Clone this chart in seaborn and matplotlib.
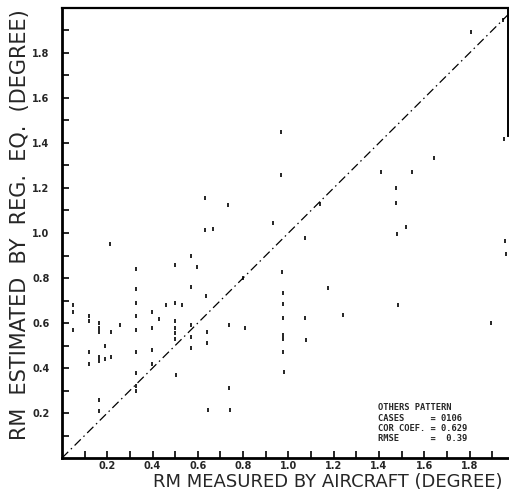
import matplotlib
matplotlib.use("Agg")
import matplotlib.pyplot as plt
import numpy as np
import pandas as pd
import seaborn as sns

# Measured (aircraft) vs. regression-estimated RM, degrees
rm_measured = [
    0.047, 0.047, 0.047,
    0.118, 0.118, 0.118, 0.118,
    0.162, 0.162, 0.162, 0.162, 0.162, 0.162, 0.162,
    0.19, 0.19, 0.212, 0.218, 0.218, 0.258,
    0.327, 0.327, 0.327, 0.327, 0.327, 0.327, 0.327, 0.327, 0.327,
    0.398, 0.398, 0.398, 0.398, 0.43, 0.459,
    0.50, 0.50, 0.50, 0.50, 0.50, 0.50, 0.503, 0.528,
    0.569, 0.569, 0.569, 0.569, 0.569, 0.597,
    0.633, 0.633, 0.665, 0.637, 0.64, 0.64, 0.645,
    0.733, 0.739, 0.739, 0.742, 0.80, 0.81,
    0.932, 0.968, 0.968, 0.973, 0.976, 0.976, 0.976, 0.978, 0.978, 0.978, 0.98,
    1.072, 1.075, 1.078, 1.139, 1.174, 1.243,
    1.407, 1.544, 1.476, 1.476, 1.518, 1.478, 1.484,
    1.643, 1.805, 1.948, 1.953, 1.957, 1.96, 1.894,
]
rm_estimated = [
    0.68, 0.65, 0.57,
    0.63, 0.61, 0.47, 0.42,
    0.60, 0.58, 0.56, 0.45, 0.43, 0.26, 0.21,
    0.50, 0.44, 0.95, 0.56, 0.45, 0.59,
    0.84, 0.75, 0.69, 0.63, 0.57, 0.47, 0.38, 0.32, 0.30,
    0.65, 0.58, 0.48, 0.42, 0.62, 0.68,
    0.86, 0.69, 0.61, 0.58, 0.555, 0.53, 0.37, 0.68,
    0.90, 0.76, 0.59, 0.54, 0.49, 0.85,
    1.154, 1.013, 1.02, 0.72, 0.56, 0.51, 0.213,
    1.124, 0.59, 0.31, 0.213, 0.80, 0.58,
    1.046, 1.447, 1.258, 0.825, 0.735, 0.684, 0.624, 0.545, 0.53, 0.472, 0.384,
    0.979, 0.624, 0.524, 1.129, 0.757, 0.636,
    1.27, 1.27, 1.199, 1.132, 1.028, 0.994, 0.68,
    1.332, 1.895, 1.947, 1.416, 0.966, 0.907, 0.601,
]

x_tick_values = [0.2, 0.4, 0.6, 0.8, 1.0, 1.2, 1.4, 1.6, 1.8]
y_tick_values = [0.2, 0.4, 0.6, 0.8, 1.0, 1.2, 1.4, 1.6, 1.8]
tick_labels = ["0.2", "0.4", "0.6", "0.8", "1.0", "1.2", "1.4", "1.6", "1.8"]

stats_lines = [
    "OTHERS PATTERN",
    "CASES     = 0106",
    "COR COEF. = 0.629",
    "RMSE      =  0.39",
]

sns.set_style("ticks")
plt.rcParams["font.family"] = ["DejaVu Sans"]

df = pd.DataFrame({"measured": rm_measured, "estimated": rm_estimated})

fig = plt.figure(figsize=(5.10, 4.92), dpi=100)
ax = fig.add_axes([62 / 510, (492 - 458) / 492, 446 / 510, 450 / 492])

sns.scatterplot(data=df, x="measured", y="estimated", marker="|", s=11,
                color="black", linewidth=1.2, ax=ax, legend=False)

# 1:1 reference line
ax.plot([0, 2.0], [0, 2.0], color="black", lw=0.9,
        linestyle=(0, (7, 3, 1.2, 3)))

ax.set_xlim(0, 1.97)
ax.set_ylim(0, 2.0)

ax.set_xticks(np.arange(0.1, 1.95, 0.1), minor=True)
ax.set_yticks(np.arange(0.1, 1.95, 0.1), minor=True)
ax.set_xticks(x_tick_values)
ax.set_yticks(y_tick_values)
ax.set_xticklabels(tick_labels, fontsize=7, fontweight="bold")
ax.set_yticklabels(tick_labels, fontsize=7, fontweight="bold")
ax.tick_params(which="both", direction="in", length=5, width=1.2,
               color="black")
ax.tick_params(axis="x", which="major", pad=2)
ax.tick_params(axis="y", which="major", pad=9)

for side in ["left", "bottom"]:
    ax.spines[side].set_linewidth(2.0)
ax.spines["top"].set_linewidth(1.6)
ax.spines["right"].set_linewidth(1.4)
ax.spines["right"].set_bounds(1.43, 2.0)
for sp in ax.spines.values():
    sp.set_color("black")

ax.set_xlabel("RM MEASURED BY AIRCRAFT (DEGREE)", fontsize=13)
ax.xaxis.set_label_coords((328 - 62) / 446, (458 - 482) / 450)
ax.xaxis.label.set_va("center")
ax.set_ylabel("RM  ESTIMATED  BY  REG.  EQ.  (DEGREE)", fontsize=15)
ax.yaxis.set_label_coords((20 - 62) / 446, (458 - 225) / 450)
ax.yaxis.label.set_va("center")

for i, line in enumerate(stats_lines):
    ax.text((378 - 62) / 446, (458 - 408 - 10.3 * i) / 450, line,
            transform=ax.transAxes, family="DejaVu Sans Mono",
            fontsize=6.3, fontweight="bold", va="center", ha="left")

fig.savefig("out.png", dpi=100)
